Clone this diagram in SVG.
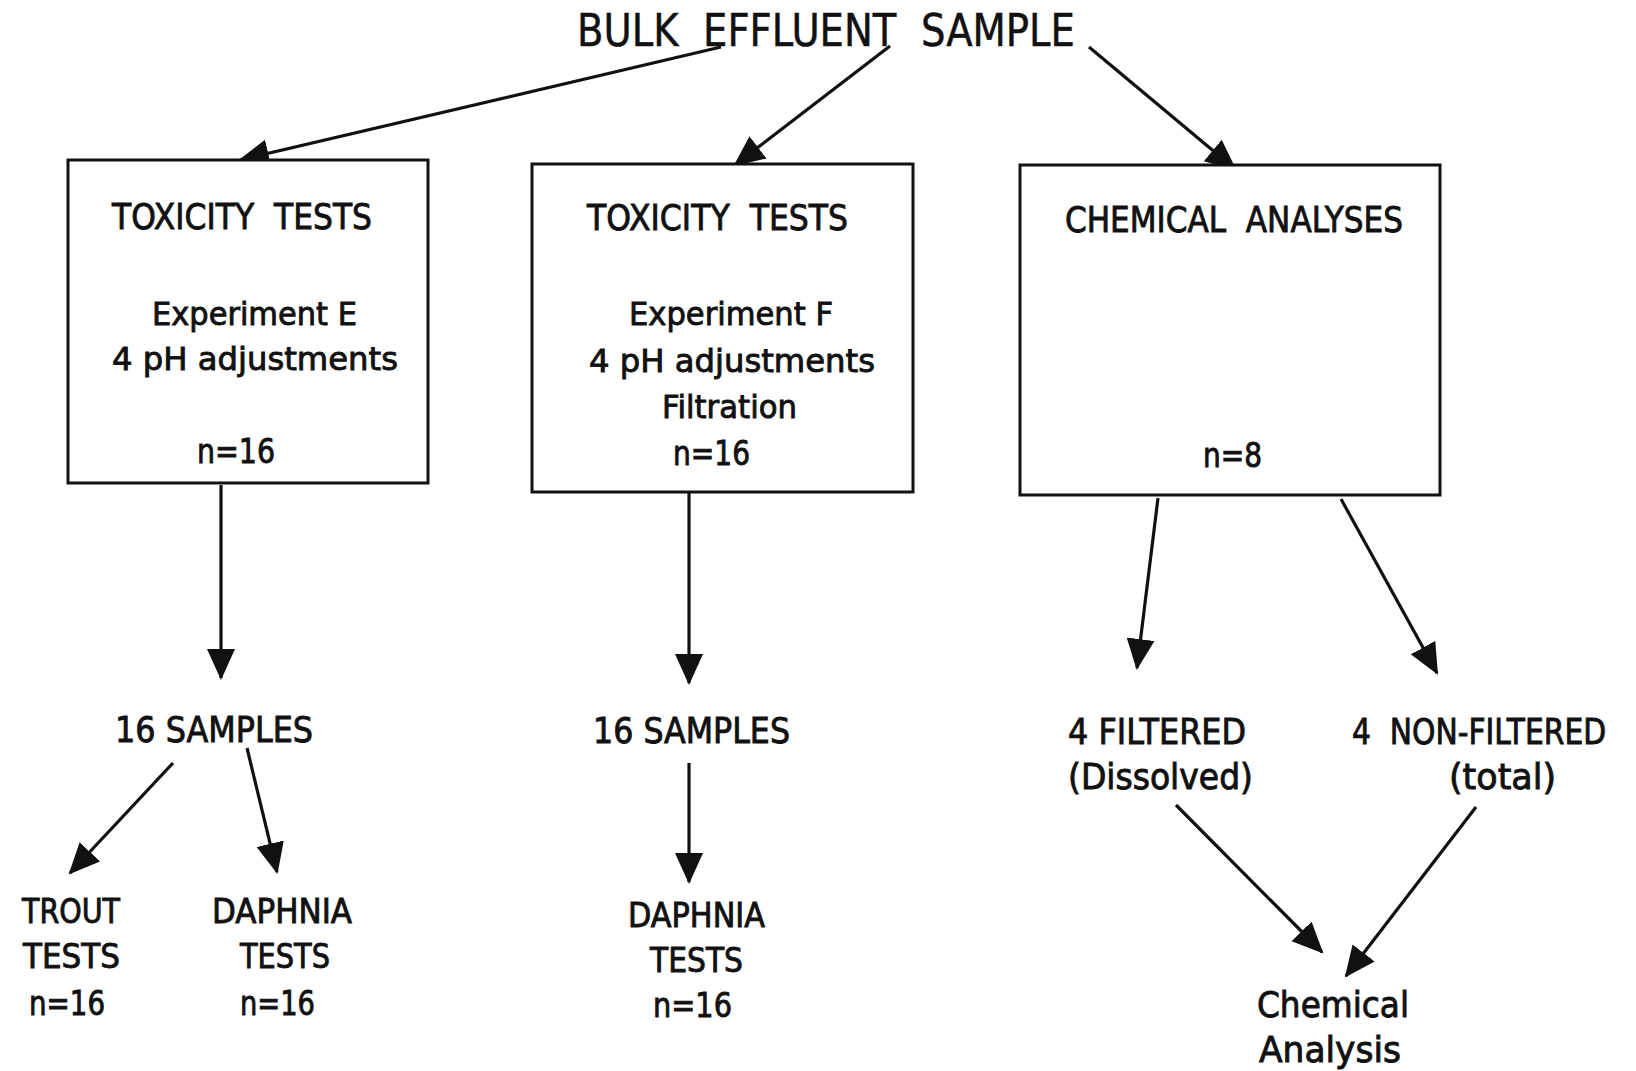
<svg xmlns="http://www.w3.org/2000/svg" width="1636" height="1071" viewBox="0 0 1636 1071">
<style>
  text { font-family: "DejaVu Sans", "Liberation Sans", sans-serif; fill: #111; stroke: #111; stroke-width: 0.9; white-space: pre; }
  .t1 { font-size: 44px; stroke-width: 0.5; }
  .h { font-size: 36px; }
  .m { font-size: 32px; }
  .l { font-size: 35px; }
  .s { font-size: 33px; }
  .box { fill: #fff; stroke: #111; stroke-width: 3; }
  .c line { stroke: #111; stroke-width: 3.2; marker-end: url(#ah); }
</style>
<defs>
  <marker id="ah" markerUnits="userSpaceOnUse" markerWidth="34" markerHeight="30" refX="29" refY="15" orient="auto">
    <path d="M0,1 L31,15 L0,29 Z" fill="#111"/>
  </marker>
</defs>
<rect width="1636" height="1071" fill="#fff"/>

<g id="connectors" class="c">
  <line x1="721" y1="47" x2="240" y2="160"/>
  <line x1="890" y1="46" x2="735" y2="165"/>
  <line x1="1089" y1="47" x2="1235" y2="169"/>
  <line x1="221" y1="485" x2="221" y2="678"/>
  <line x1="689" y1="493" x2="689" y2="683"/>
  <line x1="1158" y1="498" x2="1137" y2="668"/>
  <line x1="1341" y1="499" x2="1437" y2="673"/>
  <line x1="173" y1="763" x2="70" y2="873"/>
  <line x1="247" y1="748" x2="277" y2="872"/>
  <line x1="689" y1="763" x2="689" y2="882"/>
  <line x1="1176" y1="805" x2="1322" y2="952"/>
  <line x1="1476" y1="807" x2="1346" y2="976"/>
</g>

<g id="bulk">
  <text class="t1" x="577" y="46" textLength="498" lengthAdjust="spacingAndGlyphs">BULK  EFFLUENT  SAMPLE</text>
</g>

<g id="tox-e">
  <rect class="box" x="68" y="160" width="360" height="323"/>
  <text class="h" x="112" y="229" textLength="260" lengthAdjust="spacingAndGlyphs">TOXICITY  TESTS</text>
  <text class="m" x="152" y="325" textLength="205" lengthAdjust="spacingAndGlyphs">Experiment E</text>
  <text class="m" x="112" y="370" textLength="286" lengthAdjust="spacingAndGlyphs">4 pH adjustments</text>
  <text class="s" x="197" y="463" textLength="78" lengthAdjust="spacingAndGlyphs">n=16</text>
</g>

<g id="tox-f">
  <rect class="box" x="532" y="164" width="381" height="328"/>
  <text class="h" x="587" y="230" textLength="261" lengthAdjust="spacingAndGlyphs">TOXICITY  TESTS</text>
  <text class="m" x="629" y="325" textLength="204" lengthAdjust="spacingAndGlyphs">Experiment F</text>
  <text class="m" x="589" y="372" textLength="286" lengthAdjust="spacingAndGlyphs">4 pH adjustments</text>
  <text class="m" x="662" y="418" textLength="135" lengthAdjust="spacingAndGlyphs">Filtration</text>
  <text class="s" x="673" y="465" textLength="77" lengthAdjust="spacingAndGlyphs">n=16</text>
</g>

<g id="chem">
  <rect class="box" x="1020" y="165" width="420" height="330"/>
  <text class="h" x="1065" y="232" textLength="338" lengthAdjust="spacingAndGlyphs">CHEMICAL  ANALYSES</text>
  <text class="s" x="1203" y="467" textLength="59" lengthAdjust="spacingAndGlyphs">n=8</text>
</g>

<g id="samples-e">
  <text class="l" x="115" y="742" textLength="198" lengthAdjust="spacingAndGlyphs">16 SAMPLES</text>
</g>
<g id="samples-f">
  <text class="l" x="593" y="743" textLength="197" lengthAdjust="spacingAndGlyphs">16 SAMPLES</text>
</g>

<g id="trout">
  <text class="s" x="22" y="923" textLength="98" lengthAdjust="spacingAndGlyphs">TROUT</text>
  <text class="s" x="23" y="968" textLength="97" lengthAdjust="spacingAndGlyphs">TESTS</text>
  <text class="s" x="29" y="1015" textLength="76" lengthAdjust="spacingAndGlyphs">n=16</text>
</g>

<g id="daphnia-e">
  <text class="s" x="212" y="923" textLength="140" lengthAdjust="spacingAndGlyphs">DAPHNIA</text>
  <text class="s" x="240" y="968" textLength="90" lengthAdjust="spacingAndGlyphs">TESTS</text>
  <text class="s" x="240" y="1015" textLength="75" lengthAdjust="spacingAndGlyphs">n=16</text>
</g>

<g id="daphnia-f">
  <text class="s" x="628" y="927" textLength="137" lengthAdjust="spacingAndGlyphs">DAPHNIA</text>
  <text class="s" x="650" y="972" textLength="93" lengthAdjust="spacingAndGlyphs">TESTS</text>
  <text class="s" x="653" y="1017" textLength="79" lengthAdjust="spacingAndGlyphs">n=16</text>
</g>

<g id="filtered">
  <text class="l" x="1068" y="744" textLength="178" lengthAdjust="spacingAndGlyphs">4 FILTERED</text>
  <text class="l" x="1068" y="789" textLength="185" lengthAdjust="spacingAndGlyphs">(Dissolved)</text>
</g>

<g id="nonfiltered">
  <text class="l" transform="translate(1352,744) scale(0.85,1)" x="0" y="0">4  NON-FILTERED</text>
  <text class="l" x="1449" y="789" textLength="107" lengthAdjust="spacingAndGlyphs">(total)</text>
</g>

<g id="analysis">
  <text class="l" x="1257" y="1017" textLength="152" lengthAdjust="spacingAndGlyphs">Chemical</text>
  <text class="l" x="1259" y="1062" textLength="142" lengthAdjust="spacingAndGlyphs">Analysis</text>
</g>
</svg>
